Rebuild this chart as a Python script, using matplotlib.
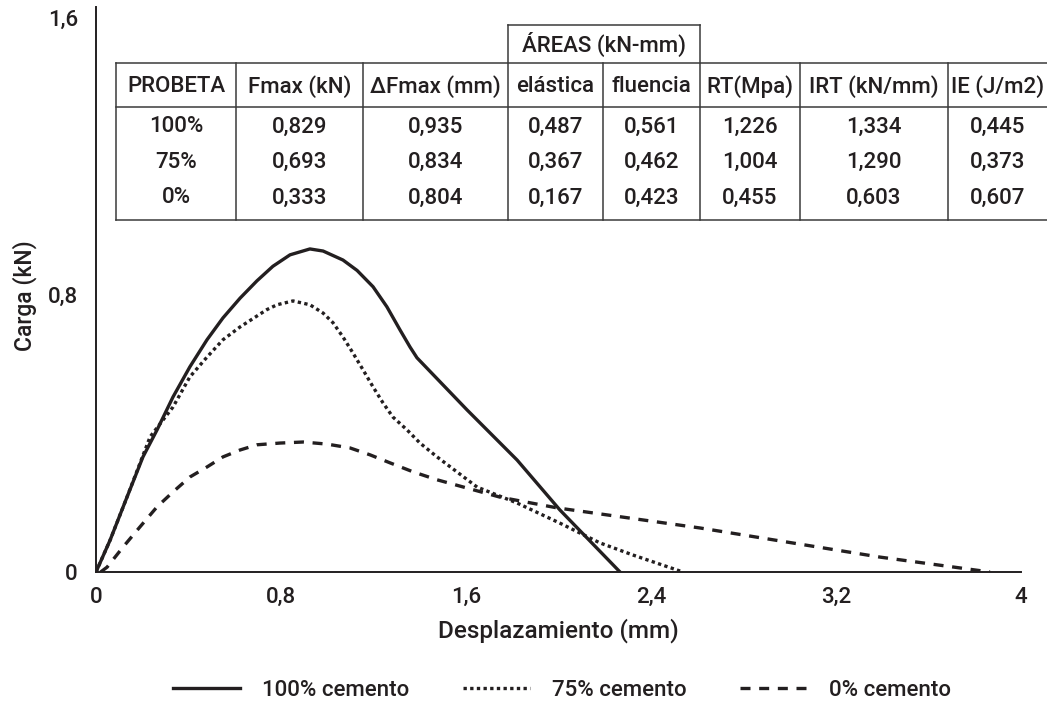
import matplotlib
matplotlib.use("Agg")
import matplotlib.pyplot as plt
from matplotlib.lines import Line2D

# ---- data ----
x100 = [0.0, 0.061, 0.134, 0.203, 0.264, 0.333, 0.406, 0.480, 0.549, 0.623, 0.696, 0.765, 0.839, 0.925,
        0.982, 1.068, 1.129, 1.198, 1.258, 1.315, 1.358, 1.388, 1.604, 1.821, 2.006, 2.266]
y100 = [0.0, 0.092, 0.216, 0.332, 0.410, 0.505, 0.592, 0.670, 0.733, 0.790, 0.840, 0.882, 0.915, 0.932,
        0.926, 0.900, 0.870, 0.823, 0.765, 0.698, 0.649, 0.618, 0.468, 0.323, 0.179, 0.0]

x75 = [0.0, 0.061, 0.134, 0.234, 0.333, 0.406, 0.480, 0.549, 0.623, 0.739, 0.783, 0.852, 0.925, 0.982,
       1.025, 1.068, 1.111, 1.155, 1.198, 1.241, 1.284, 1.345, 1.401, 1.475, 1.648, 1.821, 2.006, 2.179,
       2.322, 2.538]
y75 = [0.0, 0.092, 0.216, 0.390, 0.476, 0.563, 0.620, 0.670, 0.707, 0.757, 0.771, 0.782, 0.771, 0.747,
       0.719, 0.678, 0.632, 0.583, 0.534, 0.488, 0.447, 0.410, 0.372, 0.332, 0.245, 0.199, 0.141, 0.084,
       0.049, 0.0]

x0 = [0.02, 0.048, 0.117, 0.190, 0.264, 0.333, 0.406, 0.480, 0.549, 0.623, 0.696, 0.796, 0.895, 0.999,
      1.098, 1.185, 1.271, 1.371, 1.475, 1.747, 1.994, 2.612, 3.390, 3.866]
y0 = [0.0, 0.014, 0.072, 0.130, 0.188, 0.231, 0.274, 0.303, 0.332, 0.352, 0.367, 0.372, 0.375, 0.369,
      0.358, 0.338, 0.315, 0.289, 0.266, 0.216, 0.185, 0.127, 0.043, 0.0]

series_labels = ["100% cemento", "75% cemento", "0% cemento"]

xticks = [0, 0.8, 1.6, 2.4, 3.2, 4]
xtick_labels = ["0", "0,8", "1,6", "2,4", "3,2", "4"]
yticks = [0, 0.8, 1.6]
ytick_labels = ["0", "0,8", "1,6"]

table_headers = ["PROBETA", "Fmax (kN)", "\u0394Fmax (mm)", "elástica", "fluencia", "RT(Mpa)", "IRT (kN/mm)", "IE (J/m2)"]
table_group = "ÁREAS (kN-mm)"
probeta = ["100%", "75%", "0%"]
fmax = [0.829, 0.693, 0.333]
dfmax = [0.935, 0.834, 0.804]
area_elastica = [0.487, 0.367, 0.167]
area_fluencia = [0.561, 0.462, 0.423]
rt = [1.226, 1.004, 0.455]
irt = [1.334, 1.290, 0.603]
ie = [0.445, 0.373, 0.607]

# ---- style ----
C = "#231f20"
FONT = "Roboto"
plt.rcParams["font.family"] = [FONT, "DejaVu Sans"]
plt.rcParams["font.weight"] = 500
plt.rcParams["axes.labelweight"] = 500

W, H = 1047, 706
fig = plt.figure(figsize=(W / 100, H / 100), dpi=100)
ax = fig.add_axes([96 / W, 1 - 572 / H, (1021 - 96) / W, (572 - 7) / H])

ax.plot(x100, y100, color=C, lw=2.4, solid_joinstyle="round", label=series_labels[0])
ax.plot(x75, y75, color=C, lw=2.4, linestyle=(0, (1.0, 1.0)), label=series_labels[1])
ax.plot(x0, y0, color=C, lw=2.4, linestyle=(0, (3.0, 2.6)), label=series_labels[2])

ax.set_xlim(0, 4.0)
ax.set_ylim(0, 1.63)
ax.set_xticks(xticks)
ax.set_xticklabels(xtick_labels)
ax.set_yticks(yticks)
ax.set_yticklabels(ytick_labels)
ax.tick_params(length=0, labelsize=16, colors=C)
ax.tick_params(axis="x", pad=11)
ax.tick_params(axis="y", pad=13)
for s in ["top", "right"]:
    ax.spines[s].set_visible(False)
for s in ["left", "bottom"]:
    ax.spines[s].set_color(C)
    ax.spines[s].set_linewidth(1.4)

ax.set_xlabel("Desplazamiento (mm)", fontsize=17.5, color=C, labelpad=7, fontweight=500)
fig.text(25 / W, 1 - 296 / H, "Carga (kN)", rotation=90, fontsize=16.5, color=C,
         ha="center", va="center", fontweight=500)

leg = fig.legend(loc="center", bbox_to_anchor=(562 / W, 1 - 690 / H), ncol=3, frameon=False,
                 fontsize=16, handlelength=3.0, handletextpad=1.0, columnspacing=2.4)
for t in leg.get_texts():
    t.set_color(C)

# ---- table (figure pixel coordinates) ----
def fx(px):
    return px / W

def fy(py):
    return 1 - py / H

tl_kw = dict(color="#3a3a3a", lw=1.1, transform=fig.transFigure)
col_edges = [116, 236, 363, 508, 603, 700, 800, 948]
col_centers = [176, 299.5, 435.5, 555.5, 651.5, 750, 874, 998]
y_top_group, y_top, y_head, y_bottom = 25, 63, 107, 220

for yy in [y_top, y_head, y_bottom]:
    fig.add_artist(Line2D([fx(116), fx(W)], [fy(yy), fy(yy)], **tl_kw))
fig.add_artist(Line2D([fx(508), fx(700)], [fy(y_top_group), fy(y_top_group)], **tl_kw))
for xe in col_edges:
    top = y_top_group if xe in (508, 700) else y_top
    fig.add_artist(Line2D([fx(xe), fx(xe)], [fy(top), fy(y_bottom)], **tl_kw))

txt_kw = dict(fontsize=16, color=C, ha="center", va="center")
fig.text(fx(604), fy(44), table_group, **txt_kw)
for cx, h in zip(col_centers, table_headers):
    fig.text(fx(cx), fy(87), h, **txt_kw)

def fmt(v):
    return f"{v:.3f}".replace(".", ",")

columns = [probeta, [fmt(v) for v in fmax], [fmt(v) for v in dfmax], [fmt(v) for v in area_elastica],
           [fmt(v) for v in area_fluencia], [fmt(v) for v in rt], [fmt(v) for v in irt], [fmt(v) for v in ie]]
row_y = [127, 162, 198]
for cx, col in zip(col_centers, columns):
    for ry, val in zip(row_y, col):
        fig.text(fx(cx), fy(ry), val, **txt_kw)

fig.savefig("out.png", dpi=100, facecolor="white")
